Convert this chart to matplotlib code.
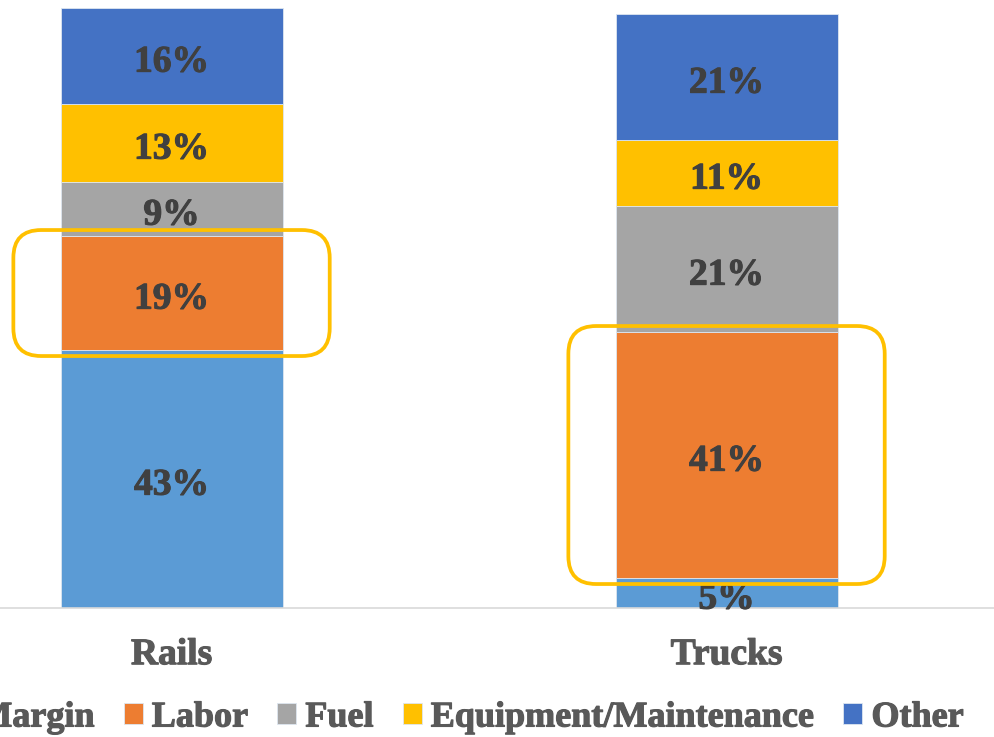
import numpy as np
import matplotlib.pyplot as plt
from matplotlib.patches import FancyBboxPatch
import matplotlib.patheffects as pe

plt.rcParams['font.family'] = ['Liberation Serif', 'DejaVu Serif']
plt.rcParams['font.weight'] = 'bold'

# cost share of each mode, in percent
modes = ["Rails", "Trucks"]
components = ["Margin", "Labor", "Fuel", "Equipment/Maintenance", "Other"]
margin = [43, 5]
labor = [19, 41]
fuel = [9, 21]
equipment = [13, 11]
other = [16, 21]
colors = ["#5B9BD5", "#ED7D31", "#A5A5A5", "#FFC000", "#4472C4"]

series = [margin, labor, fuel, equipment, other]
FS = 27


def heavy(color):
    # a thin outline in the text colour gives a heavier bold
    return [pe.withStroke(linewidth=0.8, foreground=color)]


fig = plt.figure(figsize=(9.94, 7.37), dpi=100)
ax = fig.add_axes([-0.1066, 0.1750, 1.1167, 0.8141])

x = np.arange(len(modes))
width = 0.4
bottom = np.zeros(len(modes))
for name, vals, col in zip(components, series, colors):
    vals = np.array(vals, dtype=float)
    ax.bar(x, vals, width, bottom=bottom, color=col, label=name,
           edgecolor="#DDE6F0", linewidth=0.6, zorder=2)
    for xi, b, v in zip(x, bottom, vals):
        ax.annotate(f"{v:.0f}%", (xi, b + v / 2), xytext=(0, -1.5),
                    textcoords="offset points", ha="center",
                    va="center_baseline", fontsize=FS, fontweight="bold",
                    color="#404040", zorder=4, path_effects=heavy("#404040"))
    bottom += vals

ax.set_xlim(-0.5, 1.5)
ax.set_ylim(0, 100)

# rounded highlight around the labor segments
bb = ax.get_position()
figw, figh = fig.get_size_inches() * fig.dpi
px_x = bb.width * figw / 2.0
px_y = bb.height * figh / 100.0
aspect = px_x / px_y
lab_bottom = np.array(margin, dtype=float)
lab_top = lab_bottom + np.array(labor, dtype=float)
for xi, b, t in zip(x, lab_bottom, lab_top):
    box = FancyBboxPatch((xi - 0.285, b - 1.0), 0.57, (t - b) + 2.0,
                         boxstyle="round,pad=0,rounding_size=0.05",
                         mutation_aspect=aspect, facecolor="none",
                         edgecolor="#FFC000", linewidth=2.7, zorder=5,
                         clip_on=False)
    ax.add_patch(box)

ax.set_xticks(x)
ax.set_xticklabels(modes, fontsize=FS, fontweight="bold", color="#595959")
for t in ax.get_xticklabels():
    t.set_path_effects(heavy("#595959"))
ax.tick_params(axis="x", length=0, pad=21)
ax.set_yticks([])
for s in ["top", "left", "right"]:
    ax.spines[s].set_visible(False)
ax.spines["bottom"].set_color("#D9D9D9")
ax.spines["bottom"].set_linewidth(1.2)

leg = fig.legend(loc="center", bbox_to_anchor=(457 / 994, 1 - 718 / 737),
                 ncol=5, frameon=False, prop={"size": 26, "weight": "bold"},
                 handlelength=0.53, handleheight=0.53, handletextpad=0.25,
                 columnspacing=0.8, borderpad=0)
for t in leg.get_texts():
    t.set_color("#595959")
    t.set_path_effects(heavy("#595959"))

fig.savefig("out.png", dpi=100)
